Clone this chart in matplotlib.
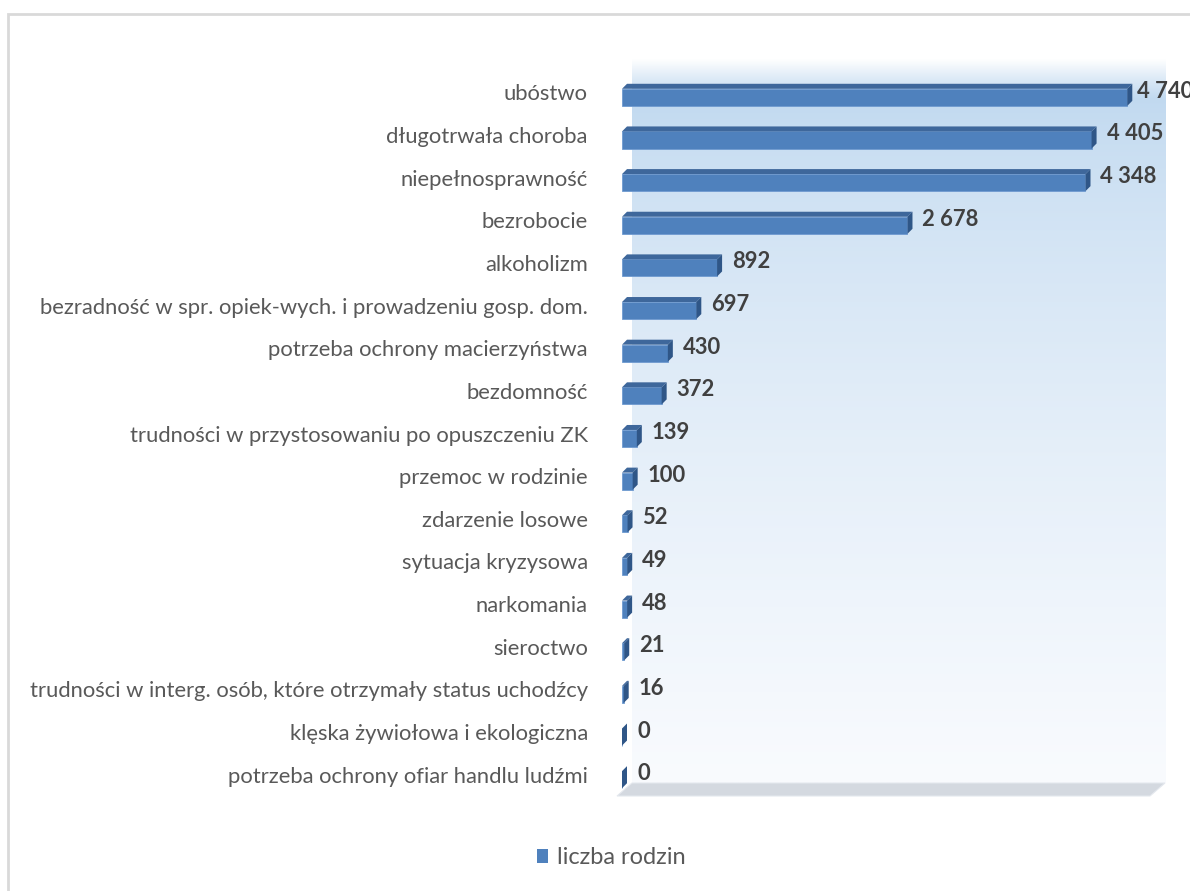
"""
Liczba rodzin wg powodów przyznania pomocy - wykres słupkowy poziomy (styl 3D)
"""

import numpy as np
import matplotlib
matplotlib.use("Agg")
import matplotlib.pyplot as plt
from matplotlib.patches import Polygon, Rectangle, Patch
from matplotlib.transforms import ScaledTranslation

# ------------------------------
# Dane
# ------------------------------
categories = [
    'ubóstwo',
    'długotrwała choroba',
    'niepełnosprawność',
    'bezrobocie',
    'alkoholizm',
    'bezradność w spr. opiek-wych. i prowadzeniu gosp. dom.',
    'potrzeba ochrony macierzyństwa',
    'bezdomność',
    'trudności w przystosowaniu po opuszczeniu ZK',
    'przemoc w rodzinie',
    'zdarzenie losowe',
    'sytuacja kryzysowa',
    'narkomania',
    'sieroctwo',
    'trudności w interg. osób, które otrzymały status uchodźcy',
    'klęska żywiołowa i ekologiczna',
    'potrzeba ochrony ofiar handlu ludźmi',
]
values = [4740, 4405, 4348, 2678, 892, 697, 430, 372, 139, 100, 52, 49, 48, 21, 16, 0, 0]
series_name = 'liczba rodzin'
x_max = 5000

plt.rcParams['font.family'] = ['Lato', 'DejaVu Sans']

# ------------------------------
# Figura i osie (rozmiary w pikselach)
# ------------------------------
W, H = 1190, 891
DPI = 100
fig = plt.figure(figsize=(W / DPI, H / DPI), dpi=DPI)

ax_l, ax_r, ax_t, ax_b = 617, 1150, 71, 796   # przednia płaszczyzna wykresu
ax = fig.add_axes([ax_l / W, 1 - ax_b / H, (ax_r - ax_l) / W, (ax_b - ax_t) / H])
ax.set_facecolor('none')
for s in ax.spines.values():
    s.set_visible(False)

n = len(categories)
ypos = np.arange(n)
ax.set_xlim(0, x_max)
ax.set_ylim(n - 0.5, -0.5)

px_x = x_max / (ax_r - ax_l)        # jednostek danych na piksel (x)
px_y = n / (ax_b - ax_t)            # jednostek danych na piksel (y)


def shift(dx, dy):
    """Przesunięcie w pikselach (dy > 0 = w górę)."""
    return ScaledTranslation(dx / DPI, dy / DPI, fig.dpi_scale_trans)


# ------------------------------
# Ściana tylna (gradient) i podłoga
# ------------------------------
depth_x, depth_y = 15, 13
wall_tr = ax.transAxes + shift(depth_x, depth_y)
top_c = np.array([186, 213, 238]) / 255
bot_c = np.array([249, 251, 254]) / 255
t = np.linspace(0, 1, 400)[:, None]
tt = np.clip((t - 0.03) / 0.97, 0, 1) ** 0.6
grad = top_c * (1 - tt) + bot_c * tt
fade = np.clip(t * 400 / 22, 0, 1)        # miękka górna krawędź
grad = grad * fade + (1 - fade) * 1.0
grad = np.repeat(grad[:, None, :], 2, axis=1)
ax.imshow(grad, extent=[0, 1, 0, 1], aspect='auto', transform=wall_tr,
          origin='upper', zorder=0, clip_on=False, interpolation='bilinear')

off = depth_x / (ax_r - ax_l), depth_y / (ax_b - ax_t)
floor = Polygon([[0, 0], [1, 0], [1 + off[0], off[1]], [off[0], off[1]]], closed=True,
                transform=ax.transAxes, facecolor='#D4D9E0', edgecolor='#E4E8EE',
                linewidth=0.8, clip_on=False, zorder=1)
ax.add_patch(floor)

# ------------------------------
# Słupki 3D
# ------------------------------
bar_h = 0.40
fx, fy = 5, 5          # przesunięcie przedniej ściany słupka
bd = 5                 # głębokość słupka w pikselach
bar_tr = ax.transData + shift(fx, -fy)

ax.barh(ypos, values, height=bar_h, color='#4F81BD', edgecolor='#6F9AD0',
        linewidth=0.6, transform=bar_tr, zorder=3, clip_on=False)

ddx, ddy = bd * px_x, bd * px_y
for y, v in zip(ypos, values):
    top = y - bar_h / 2
    bot = y + bar_h / 2
    top_face = Polygon([[0, top], [v, top], [v + ddx, top - ddy], [ddx, top - ddy]],
                       closed=True, facecolor='#3E679B', edgecolor='none',
                       transform=bar_tr, zorder=3, clip_on=False)
    side_face = Polygon([[v, top], [v + ddx, top - ddy], [v + ddx, bot - ddy], [v, bot]],
                        closed=True, facecolor='#2F5687', edgecolor='none',
                        transform=bar_tr, zorder=3, clip_on=False)
    ax.add_patch(top_face)
    ax.add_patch(side_face)
    # przy najdłuższym słupku etykieta bliżej (jak w Excelu)
    gap = 15 if v > 0.92 * x_max else 20
    ax.text(v, y, f"{v:,}".replace(',', ' '), transform=ax.transData + shift(gap, 1),
            ha='left', va='center', fontsize=15.8, fontweight='bold',
            color='#404040', zorder=4, clip_on=False)

# ------------------------------
# Etykiety kategorii
# ------------------------------
ax.set_xticks([])
ax.set_yticks(ypos)
ax.set_yticklabels(categories, fontsize=15.8, color='#595959')
ax.tick_params(axis='y', length=0, pad=21)

# ------------------------------
# Legenda i ramka
# ------------------------------
fig.legend(handles=[Patch(facecolor='#4F81BD', edgecolor='none')], labels=[series_name],
           loc='center', bbox_to_anchor=(611 / W, 1 - 858 / H), frameon=False,
           handlelength=0.5, handleheight=0.5, handletextpad=0.35,
           fontsize=17, labelcolor='#595959')

fig.patches.append(Rectangle((8 / W, -0.1), 1.2, 1.1 - 14 / H, transform=fig.transFigure,
                             facecolor='none', edgecolor='#D9D9D9', linewidth=2))

fig.savefig('out.png', dpi=DPI)
